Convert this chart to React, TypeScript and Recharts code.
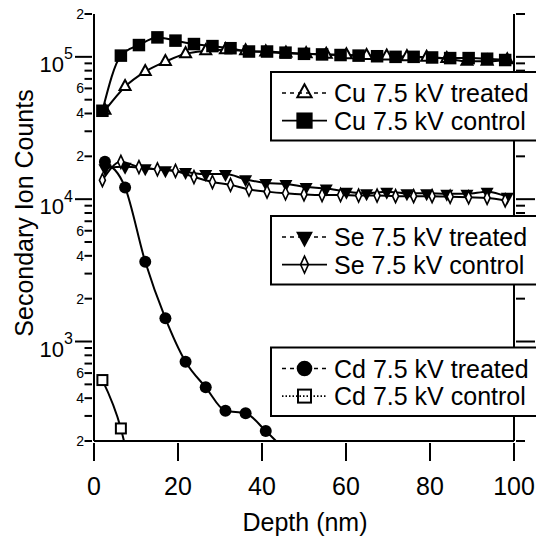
import { ComposedChart, Line, XAxis, YAxis } from "recharts";

// depth (nm) of the treated and control profiles
const treatedDepth = [2.6, 7.4, 12.2, 17.0, 21.8, 26.6, 31.3, 36.1, 40.9, 45.7, 50.5, 55.3, 60.1, 64.9, 69.7, 74.5, 79.2, 84.0, 88.8, 93.6, 98.4];
const controlDepth = [2.0, 6.4, 10.7, 15.1, 19.4, 23.8, 28.2, 32.5, 36.9, 41.2, 45.6, 50.0, 54.3, 58.7, 63.0, 67.4, 71.8, 76.1, 80.5, 84.8, 89.2, 93.6, 97.9];

const cuTreated = [42000, 61700, 78700, 92500, 105000, 110000, 112000, 110000, 108000, 106000, 105000, 104000, 103000, 102000, 101000, 100000, 99000, 97000, 93000, 93000, 95000];
const cuControl = [41800, 102000, 121000, 137000, 130000, 123000, 119000, 115000, 109000, 109000, 107000, 105000, 104000, 103000, 102000, 101000, 100000, 100000, 99000, 98000, 98000, 97000, 95000];
const seTreated = [16500, 16900, 16500, 16000, 15500, 15000, 15000, 13800, 13000, 12800, 12200, 11900, 11300, 11000, 11300, 11000, 11000, 10900, 10900, 11300, 10400];
const seControl = [13600, 18300, 16800, 16200, 15800, 14300, 13200, 12600, 11700, 11300, 11000, 10800, 10700, 10700, 10600, 10600, 10500, 10500, 10500, 10400, 10300, 10200, 9800];
const cdTreated = [18300, 12100, 3630, 1455, 721, 477, 326, 313, 235, 170];
const cdControl = [536, 245, 60];

const depthTicks = [0, 20, 40, 60, 80, 100];
const countTicks = [
  200, 300, 400, 500, 600, 700, 800, 900,
  1000, 2000, 3000, 4000, 5000, 6000, 7000, 8000, 9000,
  10000, 20000, 30000, 40000, 50000, 60000, 70000, 80000, 90000,
  100000, 200000,
];
const labelledMantissas = [2, 4, 6];

const FONT = "'Liberation Sans', Arial, Helvetica, sans-serif";

type Shape = "triUp" | "square" | "triDown" | "diamond" | "circle" | "squareOpen";

const toPoints = (depth: number[], values: number[]) =>
  values.map((y, i) => ({ x: depth[i], y }));

const series: { name: string; shape: Shape; data: { x: number; y: number }[] }[] = [
  { name: "Cu 7.5 kV treated", shape: "triUp", data: toPoints(treatedDepth, cuTreated) },
  { name: "Cu 7.5 kV control", shape: "square", data: toPoints(controlDepth, cuControl) },
  { name: "Se 7.5 kV treated", shape: "triDown", data: toPoints(treatedDepth, seTreated) },
  { name: "Se 7.5 kV control", shape: "diamond", data: toPoints(controlDepth, seControl) },
  { name: "Cd 7.5 kV treated", shape: "circle", data: toPoints(treatedDepth, cdTreated) },
  { name: "Cd 7.5 kV control", shape: "squareOpen", data: toPoints(controlDepth, cdControl) },
];

function Marker({ shape, cx, cy, k = 1, hollow = false }: { shape: Shape; cx: number; cy: number; k?: number; hollow?: boolean }) {
  const open = hollow ? "none" : "#fff";
  if (shape === "square") {
    const s = 12.5 * k;
    return <rect x={cx - s / 2} y={cy - s / 2} width={s} height={s} fill="#000" />;
  }
  if (shape === "squareOpen") {
    const s = 10 * k;
    return <rect x={cx - s / 2} y={cy - s / 2} width={s} height={s} fill={open} stroke="#000" strokeWidth={2} />;
  }
  if (shape === "circle") {
    return <circle cx={cx} cy={cy} r={6 * k} fill="#000" />;
  }
  if (shape === "triUp") {
    const w = 11 * k;
    const h = 10 * k;
    return (
      <polygon
        points={`${cx},${cy - (h * 2) / 3} ${cx - w / 2},${cy + h / 3} ${cx + w / 2},${cy + h / 3}`}
        fill={open}
        stroke="#000"
        strokeWidth={2}
      />
    );
  }
  if (shape === "triDown") {
    const w = 13 * k;
    const h = 12 * k;
    return (
      <polygon
        points={`${cx},${cy + (h * 2) / 3} ${cx - w / 2},${cy - h / 3} ${cx + w / 2},${cy - h / 3}`}
        fill="#000"
      />
    );
  }
  const w = 6 * k;
  const h = 13 * k;
  return (
    <polygon
      points={`${cx},${cy - h / 2} ${cx + w / 2},${cy} ${cx},${cy + h / 2} ${cx - w / 2},${cy}`}
      fill={open}
      stroke="#000"
      strokeWidth={1.6}
    />
  );
}

function splitValue(v: number) {
  const e = Math.floor(Math.log10(v) + 1e-9);
  return { e, m: Math.round(v / Math.pow(10, e)) };
}

function LeftTick(props: any) {
  const { x, y, payload } = props;
  const { e, m } = splitValue(payload.value);
  const decade = m === 1;
  const len = decade ? 17 : 7.5;
  return (
    <g>
      <line x1={x - len} y1={y} x2={x} y2={y} stroke="#000" strokeWidth={2} />
      {decade ? (
        <text x={x - 19} y={y + 15} textAnchor="end" fontSize={22} fontFamily={FONT} fill="#000">
          10
          <tspan fontSize={16} dy={-12.5}>
            {e}
          </tspan>
        </text>
      ) : labelledMantissas.includes(m) ? (
        <text x={x - 8} y={y} textAnchor="end" dominantBaseline="central" fontSize={14} fontFamily={FONT} fill="#000">
          {m}
        </text>
      ) : null}
    </g>
  );
}

function RightTick(props: any) {
  const { x, y, payload } = props;
  const { m } = splitValue(payload.value);
  const len = m === 1 ? 19 : 9;
  return <line x1={x} y1={y} x2={x + len} y2={y} stroke="#000" strokeWidth={2} />;
}

function BottomTick(props: any) {
  const { x, y, payload } = props;
  return (
    <g>
      <line x1={x} y1={y} x2={x} y2={y + 18} stroke="#000" strokeWidth={2} />
      <text x={x} y={y + 52} textAnchor="middle" fontSize={25} fontFamily={FONT} fill="#000">
        {payload.value}
      </text>
    </g>
  );
}

const legendBoxes = [
  { top: 72, items: [series[0], series[1]], dash: ["4 4", undefined] },
  { top: 216, items: [series[2], series[3]], dash: ["4 4", undefined] },
  { top: 347.5, items: [series[4], series[5]], dash: ["4 4", "1.5 2"] },
];

function Legends() {
  return (
    <svg width={536} height={537} style={{ position: "absolute", left: 0, top: 0, pointerEvents: "none" }}>
      {legendBoxes.map((box) => (
        <g key={box.top}>
          <rect x={271} y={box.top} width={280} height={68.5} fill="#fff" stroke="#000" strokeWidth={2} />
          {box.items.map((s, i) => {
            const base = box.top + 30 + i * 27.6;
            const cy = base - 9;
            return (
              <g key={s.name}>
                <line x1={282} y1={cy} x2={327} y2={cy} stroke="#000" strokeWidth={1.6} strokeDasharray={box.dash[i]} />
                <Marker shape={s.shape} cx={304.5} cy={cy} k={1.3} hollow />
                <text x={334} y={base} fontSize={25} fontFamily={FONT} fill="#000">
                  {s.name}
                </text>
              </g>
            );
          })}
        </g>
      ))}
      <text
        x={33}
        y={213}
        transform="rotate(-90 33 213)"
        textAnchor="middle"
        fontSize={25}
        fontFamily={FONT}
        fill="#000"
      >
        Secondary Ion Counts
      </text>
      <text x={305} y={531} textAnchor="middle" fontSize={25} fontFamily={FONT} fill="#000">
        Depth (nm)
      </text>
    </svg>
  );
}

export default function App() {
  return (
    <div style={{ position: "absolute", left: 0, top: 0, width: 536, height: 537, background: "#fff" }}>
      <ComposedChart width={536} height={537} margin={{ top: 14, right: 0, bottom: 0, left: 0 }}>
        <XAxis
          type="number"
          dataKey="x"
          domain={[0, 100]}
          ticks={depthTicks}
          interval={0}
          allowDataOverflow
          height={96}
          tickSize={0}
          tickLine={false}
          axisLine={{ stroke: "#000", strokeWidth: 2 }}
          tick={<BottomTick />}
        />
        <YAxis
          yAxisId="left"
          scale="log"
          domain={[200, 200000]}
          ticks={countTicks}
          interval={0}
          allowDataOverflow
          width={94}
          tickSize={0}
          tickLine={false}
          axisLine={{ stroke: "#000", strokeWidth: 2 }}
          tick={<LeftTick />}
        />
        <YAxis
          yAxisId="right"
          orientation="right"
          scale="log"
          domain={[200, 200000]}
          ticks={countTicks}
          interval={0}
          allowDataOverflow
          width={22}
          tickSize={0}
          tickLine={false}
          axisLine={{ stroke: "#000", strokeWidth: 2 }}
          tick={<RightTick />}
        />
        {series.map((s) => (
          <Line
            key={s.name}
            yAxisId="left"
            data={s.data}
            dataKey="y"
            type="monotone"
            stroke="#000"
            strokeWidth={2}
            isAnimationActive={false}
            activeDot={false}
            dot={(p: any) => <Marker key={`${s.name}-${p.index}`} shape={s.shape} cx={p.cx} cy={p.cy} />}
          />
        ))}
      </ComposedChart>
      <Legends />
    </div>
  );
}
